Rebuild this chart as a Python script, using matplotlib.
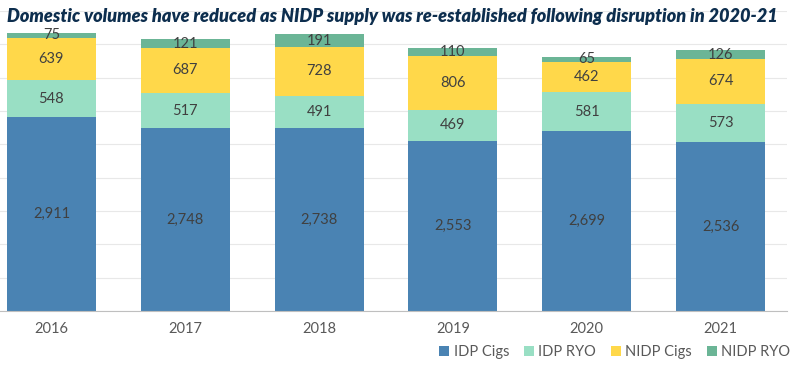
import matplotlib.pyplot as plt
import numpy as np

years = ["2016", "2017", "2018", "2019", "2020", "2021"]
idp_cigs = [2911, 2748, 2738, 2553, 2699, 2536]
idp_ryo = [548, 517, 491, 469, 581, 573]
nidp_cigs = [639, 687, 728, 806, 462, 674]
nidp_ryo = [75, 121, 191, 110, 65, 126]

series = [
    ("IDP Cigs", idp_cigs, "#4a83b3"),
    ("IDP RYO", idp_ryo, "#99dfc4"),
    ("NIDP Cigs", nidp_cigs, "#ffd84a"),
    ("NIDP RYO", nidp_ryo, "#6bb596"),
]

plt.rcParams['font.family'] = ['Lato', 'DejaVu Sans']

fig = plt.figure(figsize=(8.01, 3.66), dpi=100)
ax = fig.add_axes([0, 1 - 311 / 366, 787 / 801, 300 / 366])

x = np.arange(len(years))
bottom = np.zeros(len(years))
for name, vals, color in series:
    vals = np.array(vals)
    ax.bar(x, vals, 0.665, bottom=bottom, color=color, label=name, zorder=2)
    for xi, b, v in zip(x, bottom, vals):
        ax.text(xi, b + v / 2, f"{v:,}", ha="center", va="center",
                fontsize=10.5, color="#404040", zorder=3)
    bottom += vals

ax.set_xlim(-51.5 / 134, 5 + 66.5 / 134)
ax.set_ylim(0, 4500)
ax.set_yticks(np.arange(0, 4501, 500))
ax.yaxis.grid(True, color="#e8e8e8", linewidth=0.8, zorder=0)
ax.tick_params(axis="y", left=False, labelleft=False)
ax.tick_params(axis="x", length=0, pad=8, labelsize=10.5, labelcolor="#595959")
ax.set_xticks(x)
ax.set_xticklabels(years)
for s in ["top", "right", "left"]:
    ax.spines[s].set_visible(False)
ax.spines["bottom"].set_color("#bfbfbf")

fig.text(0.009, 0.955, "Domestic volumes have reduced as NIDP supply was re-established following disruption in 2020-21",
         fontsize=13.1, fontweight="heavy", fontstyle="italic", color="#0d2e4e", va="center")

fig.legend(loc="center right", bbox_to_anchor=(1.003, 0.038), ncol=4, frameon=False,
           fontsize=10.5, labelcolor="#595959", handlelength=0.7, handleheight=0.7,
           handletextpad=0.3, columnspacing=1.0)

fig.savefig("out.png", dpi=100)
